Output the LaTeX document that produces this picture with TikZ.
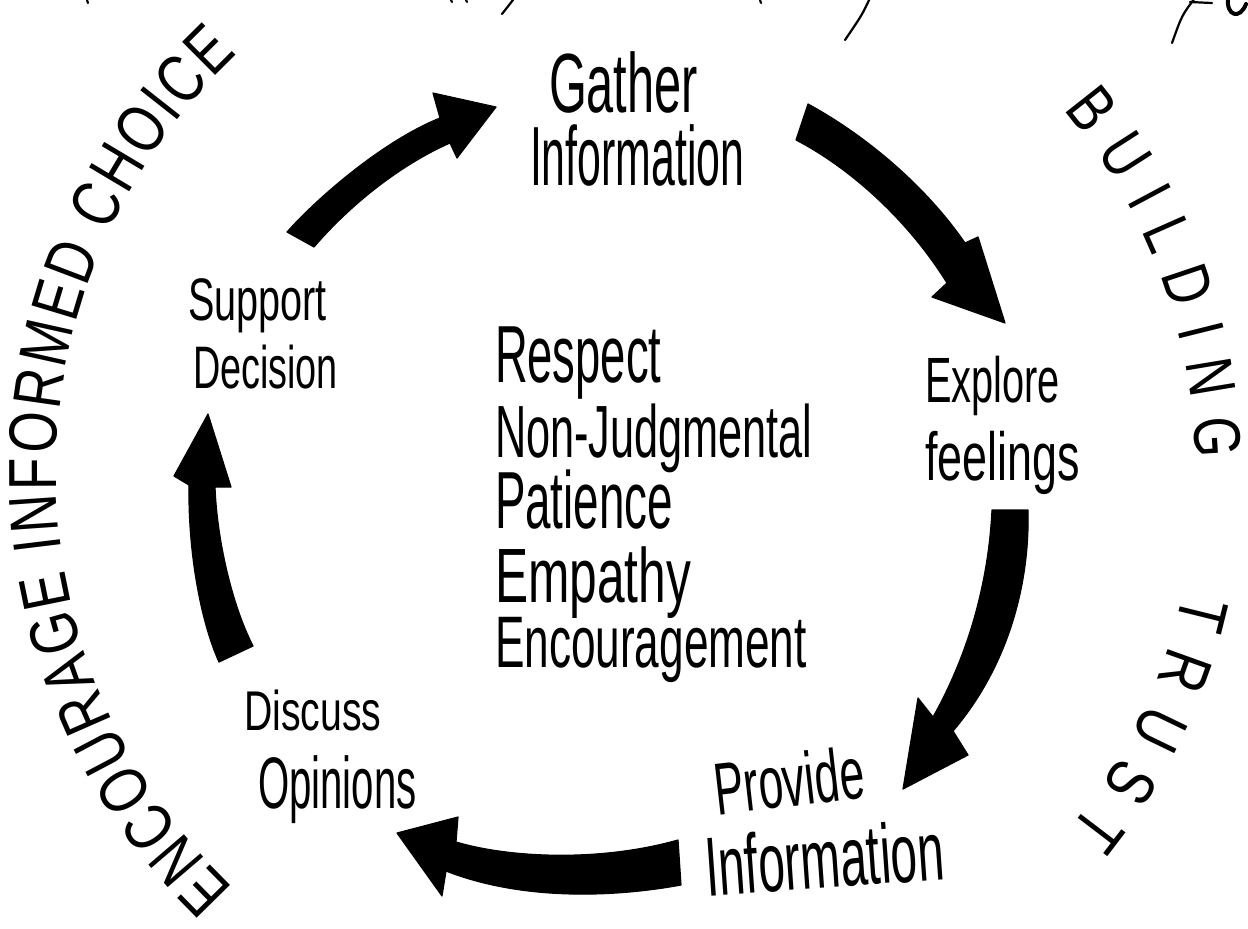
\documentclass[tikz,border=0pt]{standalone}
\usepackage{fontspec}
\usetikzlibrary{decorations.text}
\newfontfamily\hand{Liberation Sans}
\newfontfamily\outerfam{Liberation Sans}[FakeStretch=0.78]
\newcommand\hw[3]{{\fontsize{#1}{#1}\selectfont\scalebox{#2}[1]{#3}}}
\begin{document}
\begin{tikzpicture}[x=0.5pt,y=-0.5pt,
  lbl/.style={inner sep=0pt,outer sep=0pt,anchor=base west,font=\hand},
  brush/.style={fill=black,draw=black,line width=0.6pt,line join=round},
  frag/.style={draw=black,line width=1.1pt,line cap=round}]
\fill[white] (0,0) rectangle (1248,928);
\useasboundingbox (0,0) rectangle (1248,928);
\coordinate (C) at (630,473);

% ring texts
\path[decorate,decoration={text along path,text align={fit to path},
  text={|\outerfam\fontsize{34}{34}\selectfont|ENCOURAGE INFORMED CHOICE}}]
  ([shift={(133.7:574)}]C) arc[start angle=133.7,end angle=226.9,radius=574];
\path[decorate,decoration={text along path,text align={fit to path},
  text={|\outerfam\fontsize{33}{33}\selectfont|BUILDING}}]
  ([shift={(-40:566)}]C) arc[start angle=-40,end angle=-1.5,radius=566];
\path[decorate,decoration={text along path,text align={fit to path},
  text={|\outerfam\fontsize{34}{34}\selectfont|TRUST}}]
  ([shift={(12.3:566)}]C) arc[start angle=12.3,end angle=39.0,radius=566];

% cut-off fragments at the top edge
\draw[frag] (513,0) -- (502,14);
\draw[frag] (870,-2) .. controls (862,15) .. (845,40);
\draw[frag] (1195,-2) .. controls (1182,15) .. (1172,43);
\draw[frag] (1190,2) -- (1212,3);
\draw[frag,line width=2pt] (1228,-2) .. controls (1226,16) and (1240,20) .. (1246,4);
\draw[frag] (87,0) -- (88,3);
\draw[frag] (451,0) -- (452,2) (466,0) -- (467,2);
\draw[frag] (760,0) -- (761,3);

% labels
\node[lbl] (gat1) at (549,112) {\hw{42}{0.58}{Gather}};
\node[lbl] (gat2) at (530,185) {\hw{42}{0.51}{Information}};
\node[lbl] (sup1) at (188,320) {\hw{30}{0.66}{Support}};
\node[lbl] (sup2) at (193,388) {\hw{30}{0.63}{Decision}};
\node[lbl] (exp1) at (925,402) {\hw{32}{0.62}{Explore}};
\node[lbl] (exp2) at (925,480) {\hw{34}{0.66}{feelings}};
\node[lbl,rotate=6.5] (pro1) at (717,815) {\hw{37}{0.6}{Provide}};
\node[lbl,rotate=4] (pro2) at (707,896) {\hw{42}{0.57}{Information}};
\node[lbl] (dis1) at (244,730) {\hw{28}{0.70}{Discuss}};
\node[lbl] (dis2) at (258,808) {\hw{36.5}{0.55}{Opinions}};
\node[lbl] (v1) at (495,382) {\hw{40.5}{0.56}{Respect}};
\node[lbl] (v2) at (495,457) {\hw{37}{0.585}{Non-Judgmental}};
\node[lbl] (v3) at (495,528) {\hw{40.5}{0.565}{Patience}};
\node[lbl] (v4) at (495,602) {\hw{38.5}{0.645}{Empathy}};
\node[lbl] (v5) at (495,667) {\hw{36.5}{0.605}{Encouragement}};

% brush arrows
% Support -> Gather
\path[brush] (287,232) .. controls (320,195) and (385,140) .. (440,118)
  -- (433,93) -- (496,107) -- (457,158) -- (450,143)
  .. controls (400,165) and (350,205) .. (314,247) -- cycle;
% Gather -> Explore
\path[brush] (808,104) .. controls (865,135) and (925,185) .. (965,243)
  -- (978,237) -- (1005,323) -- (932,297) -- (947,283)
  .. controls (908,220) and (850,168) .. (796,140) -- cycle;
% Explore -> Provide
\path[brush] (992,510) -- (1028,510) .. controls (1030,590) and (1005,670) .. (953,731)
  -- (968,755) -- (903,789) -- (918,698) -- (933,717)
  .. controls (965,660) and (988,590) .. (992,510) -- cycle;
% Provide -> Discuss
\path[brush] (397,833) -- (458,817) -- (456,842)
  .. controls (510,858) and (600,862) .. (678,840) -- (681,885)
  .. controls (610,898) and (520,900) .. (446,871) -- (442,896) -- cycle;
% Discuss -> Support
\path[brush] (208,414) -- (231,487) -- (215,487)
  .. controls (217,540) and (232,605) .. (253,646) -- (219,662)
  .. controls (200,620) and (188,550) .. (189,485) -- (174,476) -- cycle;
\end{tikzpicture}
\end{document}
